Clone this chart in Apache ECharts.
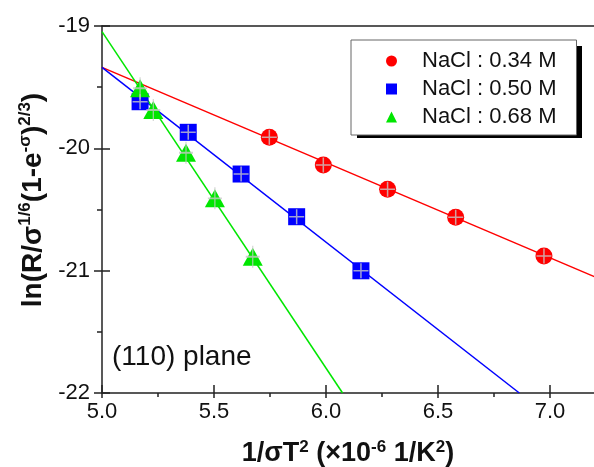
<!DOCTYPE html>
<html>
<head>
<meta charset="utf-8">
<script src="https://cdn.jsdelivr.net/npm/echarts@6/dist/echarts.min.js"></script>
<style>
  html, body { margin: 0; padding: 0; background: #fff; }
  #chart { width: 594px; height: 467px; }
</style>
</head>
<body>
<div id="chart"></div>
<script>
// legend names
const names = ['NaCl : 0.34 M', 'NaCl : 0.50 M', 'NaCl : 0.68 M'];
const colors = ['#ff0000', '#0000ff', '#00e600'];

// measured points (x = 1/sigma T^2, y = ln(...))
const x034 = [5.747, 5.988, 6.275, 6.579, 6.973];
const y034 = [-19.91, -20.137, -20.335, -20.564, -20.881];
const x050 = [5.170, 5.385, 5.621, 5.869, 6.156];
const y050 = [-19.619, -19.869, -20.210, -20.559, -21.001];
const x068 = [5.170, 5.229, 5.375, 5.504, 5.673];
const y068 = [-19.509, -19.687, -20.036, -20.409, -20.886];

// fitted straight lines, ends
const fit034X = [5.0, 7.2];
const fit034Y = [-19.338, -21.05];
const fit050X = [5.0, 6.863];
const fit050Y = [-19.338, -22.0];
const fit068X = [5.0, 6.074];
const fit068Y = [-19.046, -22.0];

// axis ranges (the right part of the plot is cut off by the canvas)
const xMin = 5.0, xMax = 7.5, xStep = 0.5;
const yMin = -22, yMax = -19, yStep = 1;

const zip = (xs, ys) => xs.map((v, i) => [v, ys[i]]);

const font = 'Liberation Sans, Arial, sans-serif';
const myChart = echarts.init(document.getElementById('chart'));

const baseX = {
  type: 'value', min: xMin, max: xMax, interval: xStep,
  splitLine: { show: false }
};
const baseY = {
  type: 'value', min: yMin, max: yMax, interval: yStep,
  splitLine: { show: false }
};
const lineStyle = { color: '#222', width: 1.5 };

function pointSeries(name, data, symbol, color) {
  return {
    name: name, type: 'scatter', data: data,
    symbol: symbol, symbolSize: symbol === 'triangle' ? [20, 18] : 17,
    itemStyle: { color: color, opacity: 1 }, z: 3
  };
}
function errSeries(data, size) {
  return {
    name: 'err', type: 'scatter', data: data,
    symbol: 'path://M0,-1 L0,1 M-1,0 L1,0', symbolSize: size,
    itemStyle: { color: 'none', borderColor: '#c8c8c8', borderWidth: 1.5 },
    z: 4, silent: true
  };
}
function fitSeries(data, color) {
  return {
    name: 'fit', type: 'line', data: data, symbol: 'none',
    lineStyle: { color: color, width: 1.5 }, z: 2
  };
}

const option = {
  animation: false,
  backgroundColor: '#fff',
  textStyle: { fontFamily: font },
  grid: { left: 102, top: 26, right: -68, bottom: 74, outerBoundsMode: 'none', containLabel: false },
  legend: {
    data: names,
    orient: 'vertical',
    left: 351, top: 40,
    padding: [10, 20, 7, 35],
    itemWidth: 11, itemHeight: 11, itemGap: 6,
    backgroundColor: '#fff',
    borderColor: '#666', borderWidth: 1,
    z: 5,
    textStyle: { fontFamily: font, fontSize: 22, color: '#111', lineHeight: 22, padding: [0, 0, 0, 20] }
  },
  xAxis: [
    Object.assign({}, baseX, {
      position: 'bottom',
      axisLine: { onZero: false, lineStyle: lineStyle },
      axisTick: { inside: false, length: 5, lineStyle: lineStyle },
      minorTick: { show: true, splitNumber: 2, length: 4, lineStyle: lineStyle },
      axisLabel: { fontFamily: font, fontSize: 22, color: '#111', margin: 8,
        formatter: v => v.toFixed(1) },
      name: '{b|1/σT}{s|2}{b| (×10}{s|-6}{b| 1/K}{s|2}{b|)}',
      nameLocation: 'middle', nameGap: 46,
      nameTextStyle: {
        padding: [0, 68, 0, 0],
        rich: {
          b: { fontFamily: font, fontSize: 27, fontWeight: 'bold', color: '#111', lineHeight: 30 },
          s: { fontFamily: font, fontSize: 17, fontWeight: 'bold', color: '#111', lineHeight: 17, verticalAlign: 'top' }
        }
      }
    }),
    Object.assign({}, baseX, {
      position: 'bottom',
      axisLine: { show: false, onZero: false },
      axisTick: { inside: true, length: 8, lineStyle: lineStyle },
      axisLabel: { show: false }
    }),
    Object.assign({}, baseX, {
      position: 'top',
      axisLine: { onZero: false, lineStyle: lineStyle },
      axisTick: { show: false },
      axisLabel: { show: false }
    })
  ],
  yAxis: [
    Object.assign({}, baseY, {
      position: 'left',
      axisLine: { onZero: false, lineStyle: lineStyle },
      axisTick: { inside: false, length: 8, lineStyle: lineStyle },
      minorTick: { show: true, splitNumber: 2, length: 5, lineStyle: lineStyle },
      axisLabel: { fontFamily: font, fontSize: 22, color: '#111', margin: 12 },
      name: '{b|ln(R/σ}{s|1/6}{b|(1-e}{s|-σ}{b|)}{s|2/3}{b|)}',
      nameLocation: 'middle', nameRotate: 90, nameGap: 52,
      nameTextStyle: {
        padding: [0, 0, 0, 19],
        rich: {
          b: { fontFamily: font, fontSize: 28, fontWeight: 'bold', color: '#111', lineHeight: 32 },
          s: { fontFamily: font, fontSize: 17, fontWeight: 'bold', color: '#111', lineHeight: 17, verticalAlign: 'top' }
        }
      }
    }),
    Object.assign({}, baseY, {
      position: 'left',
      axisLine: { show: false, onZero: false },
      axisTick: { inside: true, length: 8, lineStyle: lineStyle },
      axisLabel: { show: false }
    })
  ],
  graphic: [
    {
      // drop shadow behind the legend box
      type: 'rect', left: 357, top: 46, z: 1,
      shape: { width: 225, height: 92 },
      style: { fill: '#000' }
    },
    {
      type: 'text', left: 112, top: 343,
      style: { text: '(110) plane', fontFamily: font, fontSize: 28, fill: '#111' }
    }
  ],
  series: [
    fitSeries(zip(fit034X, fit034Y), colors[0]),
    fitSeries(zip(fit050X, fit050Y), colors[1]),
    fitSeries(zip(fit068X, fit068Y), colors[2]),
    pointSeries(names[0], zip(x034, y034), 'circle', colors[0]),
    pointSeries(names[1], zip(x050, y050), 'rect', colors[1]),
    pointSeries(names[2], zip(x068, y068), 'triangle', colors[2]),
    errSeries(zip(x034, y034), 15),
    errSeries(zip(x050, y050), 15),
    errSeries(zip(x068, y068), [14, 22])
  ]
};

myChart.setOption(option);
</script>
</body>
</html>
